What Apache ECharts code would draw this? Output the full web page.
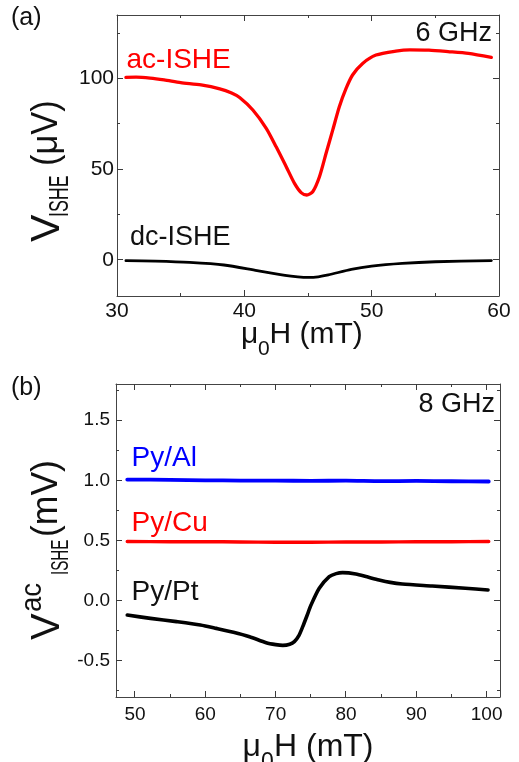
<!DOCTYPE html>
<html>
<head>
<meta charset="utf-8">
<script src="https://cdn.jsdelivr.net/npm/echarts@6/dist/echarts.min.js"></script>
<style>
  html, body { margin: 0; padding: 0; background: #fff; }
  #chart { width: 519px; height: 762px; }
</style>
</head>
<body>
<div id="chart"></div>
<script>
// ---- Panel (a): 6 GHz, ac- and dc-ISHE voltage (µV) vs field (mT) ----
const acField = [30.7, 31.5, 32.6, 33.7, 35.0, 36.6, 38.07, 39.0, 39.63, 40.67, 41.72, 42.5, 43.29, 43.94, 44.46, 44.9, 45.37, 45.9, 46.42, 46.94, 47.46, 47.99, 48.5, 49.29, 50.34, 51.9, 53.0, 54.5, 56.0, 57.6, 59.4];
const acVolt  = [100.6, 100.7, 100.2, 99.2, 97.7, 96.4, 94.3, 92.0, 89.5, 82.6, 72.5, 62.3, 51.3, 42.1, 37.0, 35.7, 37.5, 45.8, 58.7, 71.5, 84.4, 94.5, 101.9, 108.3, 112.9, 115.1, 115.8, 115.6, 114.8, 113.8, 111.6];
const dcField = [30.7, 33.0, 35.7, 38.4, 41.0, 43.2, 44.2, 45.0, 45.8, 46.6, 48.4, 50.0, 52.4, 55.0, 59.4];
const dcVolt  = [-0.5, -0.8, -1.5, -2.9, -6.0, -8.6, -9.4, -9.7, -9.4, -8.4, -5.3, -3.5, -2.0, -1.1, -0.5];

// ---- Panel (b): 8 GHz, ac-ISHE voltage (mV) for three bilayers ----
const alField = [48.9, 55, 60, 65, 70, 75, 80, 85, 90, 95, 100.3];
const alVolt  = [1.006, 1.004, 1.0, 0.998, 0.997, 0.996, 0.997, 0.993, 0.995, 0.992, 0.99];
const cuField = [48.9, 55, 60, 65, 70, 75, 80, 85, 90, 95, 100.3];
const cuVolt  = [0.492, 0.49, 0.49, 0.488, 0.485, 0.486, 0.487, 0.488, 0.489, 0.49, 0.492];
const ptField = [48.9, 52.2, 55.9, 59.3, 61.57, 64.0, 66.29, 68.65, 70.0, 71.02, 72.0, 72.66, 73.3, 73.85, 74.45, 75.03, 76.2, 77.62, 78.6, 79.52, 81.4, 83.0, 84.7, 86.3, 88.0, 92.27, 96.98, 100.2];
const ptVolt  = [-0.119, -0.147, -0.174, -0.202, -0.23, -0.262, -0.299, -0.349, -0.365, -0.371, -0.362, -0.34, -0.29, -0.216, -0.125, -0.036, 0.103, 0.2, 0.225, 0.233, 0.222, 0.198, 0.172, 0.152, 0.139, 0.122, 0.103, 0.089];

// ---- Tick values ----
const aFieldMajor = [30, 40, 50, 60];
const aFieldMinor = [35, 45, 55];
const aVoltMajor  = [0, 50, 100];
const aVoltMinor  = [25, 75, 125];
const bFieldMajor = [50, 60, 70, 80, 90, 100];
const bFieldMinor = [55, 65, 75, 85, 95];
const bVoltMajor  = [-0.5, 0, 0.5, 1.0, 1.5];
const bVoltMinor  = [-0.75, -0.25, 0.25, 0.75, 1.25, 1.75];

const FONT = "'Liberation Sans', Arial, Helvetica, sans-serif";
const AXIS_COLOR = '#444444';
const TICK_COLOR = '#3a3a3a';
const TEXT_COLOR = '#111';
const MAJOR_LEN = 6;
const MINOR_LEN = 3;

const zip = (xs, ys) => xs.map((x, i) => [x, ys[i]]);

// Framed axes: labelled bottom/left axis plus a plain mirrored top/right line.
function axisSet(dim, gridIndex, min, max, majors, label) {
  const mainPos = dim === 'x' ? 'bottom' : 'left';
  const mirrorPos = dim === 'x' ? 'top' : 'right';
  const mk = (position, withLabel) => ({
    type: 'value', gridIndex, min, max, position,
    splitLine: { show: false },
    axisLine: { show: true, onZero: false, lineStyle: { color: AXIS_COLOR, width: 1 } },
    axisTick: { show: false },
    axisLabel: withLabel ? Object.assign({ show: true, customValues: majors, color: TEXT_COLOR, fontFamily: FONT }, label) : { show: false }
  });
  return [mk(mainPos, true), mk(mirrorPos, false)];
}

const xAxes = [].concat(
  axisSet('x', 0, 30, 60, aFieldMajor, { fontSize: 21, margin: 5 }),
  axisSet('x', 1, 47.3, 101.9, bFieldMajor, { fontSize: 19, margin: 8 })
);
const yAxes = [].concat(
  axisSet('y', 0, -20, 135, aVoltMajor, { fontSize: 21, margin: 3 }),
  axisSet('y', 1, -0.8, 1.8, bVoltMajor, { fontSize: 19, margin: 6, formatter: v => v.toFixed(1) })
);

// Inward tick marks on all four sides, positioned through the axis scales.
const crisp = p => Math.round(p - 0.5) + 0.5;
function tickSeries(dim, axisIndex, majors, minors, refOther) {
  const data = majors.map(v => [v, MAJOR_LEN]).concat(minors.map(v => [v, MINOR_LEN]));
  return {
    type: 'custom', xAxisIndex: axisIndex, yAxisIndex: axisIndex, clip: false, z: 5,
    data,
    renderItem: function (params, api) {
      const v = api.value(0), len = api.value(1);
      const cs = params.coordSys;
      const st = { stroke: TICK_COLOR, lineWidth: 1 };
      if (dim === 'x') {
        const px = crisp(api.coord([v, refOther])[0]);
        const top = cs.y, bottom = cs.y + cs.height;
        return { type: 'group', children: [
          { type: 'line', shape: { x1: px, y1: bottom, x2: px, y2: bottom - len }, style: st },
          { type: 'line', shape: { x1: px, y1: top, x2: px, y2: top + len }, style: st }
        ]};
      }
      const py = crisp(api.coord([refOther, v])[1]);
      const left = cs.x, right = cs.x + cs.width;
      return { type: 'group', children: [
        { type: 'line', shape: { x1: left, y1: py, x2: left + len, y2: py }, style: st },
        { type: 'line', shape: { x1: right, y1: py, x2: right - len, y2: py }, style: st }
      ]};
    }
  };
}

function txt(text, x, y, size, fill, extra) {
  return Object.assign({
    type: 'text', x, y, silent: true,
    style: { text, font: size + 'px ' + FONT, fill: fill || TEXT_COLOR, align: 'left', verticalAlign: 'middle' }
  }, extra || {});
}
function txtR(text, x, y, size, fill) {
  const t = txt(text, x, y, size, fill);
  t.style.align = 'right';
  return t;
}

const graphics = [
  txt('(a)', 11, 17.8, 25),
  txt('(b)', 11, 388.6, 25),
  txtR('6 GHz', 492, 33.9, 27),
  txtR('8 GHz', 495, 404.6, 27),
  txt('ac-ISHE', 126.5, 60.2, 28, '#ff0000'),
  txt('dc-ISHE', 130, 237.5, 27),
  txt('Py/Al', 131.5, 458.5, 28, '#0000ff'),
  txt('Py/Cu', 131.5, 522.9, 28, '#ff0000'),
  txt('Py/Pt', 131.5, 591.9, 28),
  // x-axis titles
  { type: 'group', x: 241, y: 345, children: [
    txt('μ', 0, -10.5, 30),
    txt('0', 17, 11.7 - 7.4, 21),
    txt('H (mT)', 28.5, -10.5, 30)
  ]},
  { type: 'group', x: 242.5, y: 758.3, children: [
    txt('μ', 0, -11.2, 32),
    txt('0', 18.5, 12.5 - 8, 23),
    txt('H (mT)', 31.5, -11.2, 32)
  ]},
  // y-axis titles (rotated, reading upwards)
  { type: 'group', x: 62, y: 242, rotation: Math.PI / 2, children: [
    txt('V', 0, -14.4, 41),
    txt('ISHE', 25, -1.5, 27, null, { scaleX: 0.66 }),
    txt('(μV)', 76, -15, 37, null, { scaleX: 0.93 })
  ]},
  { type: 'group', x: 62, y: 640, rotation: Math.PI / 2, children: [
    txt('V', 0, -14, 40),
    txt('ac', 28, -29.2, 29, null, { scaleX: 0.95 }),
    txt('ISHE', 65, -0.4, 24, null, { scaleX: 0.63 }),
    txt('(mV)', 103, -15, 37, null, { scaleX: 0.96 })
  ]}
];

function line(name, data, color, width, axisIndex) {
  return {
    name, type: 'line', data, xAxisIndex: axisIndex, yAxisIndex: axisIndex,
    showSymbol: false, smooth: 0.25,
    lineStyle: { color, width, cap: 'round', join: 'round' }, itemStyle: { color },
    silent: true, clip: true, z: 3
  };
}

const chart = echarts.init(document.getElementById('chart'), null, { renderer: 'canvas' });
chart.setOption({
  animation: false,
  backgroundColor: '#ffffff',
  grid: [
    { left: 117, top: 15, width: 382, height: 281 },
    { left: 116, top: 384, width: 384, height: 313 }
  ],
  xAxis: xAxes,
  yAxis: yAxes,
  graphic: graphics,
  series: [
    line('ac-ISHE', zip(acField, acVolt), '#ff0000', 3.3, 0),
    line('dc-ISHE', zip(dcField, dcVolt), '#000000', 2.8, 0),
    line('Py/Al', zip(alField, alVolt), '#0000ff', 3.8, 2),
    line('Py/Cu', zip(cuField, cuVolt), '#ff0000', 3.4, 2),
    line('Py/Pt', zip(ptField, ptVolt), '#000000', 3.6, 2),
    tickSeries('x', 0, aFieldMajor, aFieldMinor, 0),
    tickSeries('y', 0, aVoltMajor, aVoltMinor, 40),
    tickSeries('x', 2, bFieldMajor, bFieldMinor, 0),
    tickSeries('y', 2, bVoltMajor, bVoltMinor, 60)
  ]
});
</script>
</body>
</html>
